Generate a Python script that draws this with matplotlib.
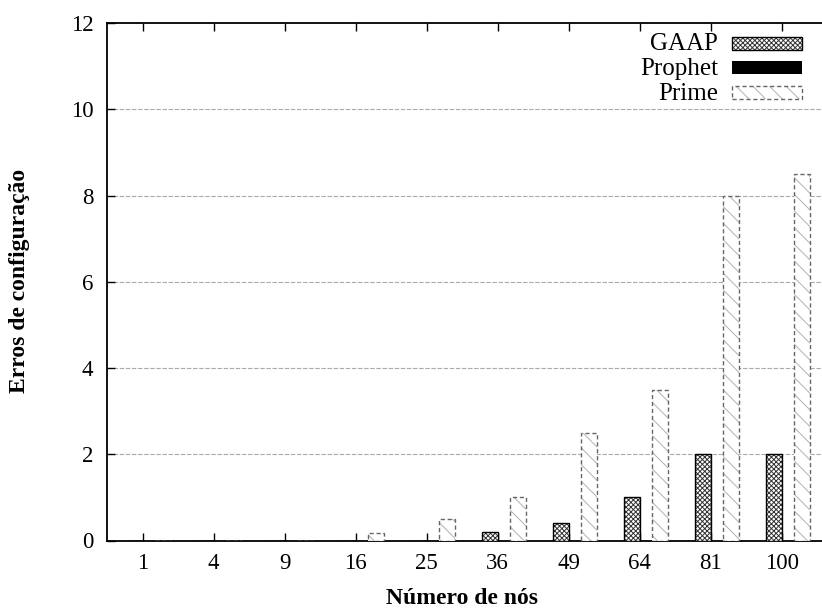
import matplotlib
matplotlib.use("Agg")
import matplotlib.pyplot as plt
from matplotlib.patches import Rectangle
import numpy as np

categories = ["1", "4", "9", "16", "25", "36", "49", "64", "81", "100"]
gaap = [0, 0, 0, 0, 0, 0.2, 0.4, 1.0, 2.0, 2.0]
prophet = [0, 0, 0, 0, 0, 0, 0, 0, 0, 0]
prime = [0, 0, 0, 0.17, 0.5, 1.0, 2.5, 3.5, 8.0, 8.5]
series_names = ["GAAP", "Prophet", "Prime"]

plt.rcParams['font.family'] = ['Liberation Serif', 'DejaVu Serif']
plt.rcParams['hatch.linewidth'] = 0.7

W, H = 822, 612
fig = plt.figure(figsize=(W/100, H/100), dpi=100)
ax = fig.add_axes([107.2/W, 71.5/H, (827.9-107.2)/W, (540.5-23)/H])

x = np.arange(len(categories))
w = 0.225
off_g, off_p, off_r = -0.106, 0.092, 0.289

g_style = dict(facecolor='white', edgecolor='#333333', hatch='xxxxxxx', linewidth=0)
g_edge = dict(facecolor='none', edgecolor='black', linewidth=1.0)
p_style = dict(facecolor='black', edgecolor='black', linewidth=0)
r_style = dict(facecolor='white', edgecolor='#b0b0b0', hatch='\\\\', linewidth=0)
r_edge = dict(facecolor='none', edgecolor='#666666', linewidth=1.0, linestyle=(0, (3, 2)))

ax.bar(x + off_g, gaap, w, zorder=3, **g_style)
ax.bar(x + off_g, gaap, w, zorder=4, **g_edge)
ax.bar(x + off_p, prophet, w, zorder=3, **p_style)
ax.bar(x + off_r, prime, w, zorder=3, **r_style)
ax.bar(x + off_r, prime, w, zorder=4, **r_edge)

ax.set_xlim(-0.5, 9.65)
ax.set_ylim(0, 12)
ax.set_xticks(x)
ax.set_xticklabels(categories)
ax.set_yticks(np.arange(0, 13, 2))
ax.tick_params(direction='in', length=6, width=1.0, top=True, right=False, labelsize=16.5, colors='black')
ax.tick_params(axis='y', pad=10)
ax.tick_params(axis='x', pad=9)
for s in ax.spines.values():
    s.set_linewidth(1.3)

for yv in [2, 4, 6, 8, 10]:
    ax.axhline(yv, color='#aaaaaa', linewidth=0.8, linestyle=(0, (4, 1.5)), zorder=1)

fig.text(462/W, 1 - 598/H, "Número de nós", fontsize=17, fontweight='bold', ha='center', va='center')
fig.text(20/W, 1 - 281/H, "Erros de configuração", fontsize=17, fontweight='bold', ha='center', va='center',
         rotation=90)

# legend (manual, figure coordinates)
rows_y = [43.5, 67.5, 92.5]
styles = [(g_style, g_edge), (p_style, None), (r_style, r_edge)]
for name, yc, (st, ed) in zip(series_names, rows_y, styles):
    fig.text(718/W, 1 - (yc + 1)/H, name, fontsize=18, ha='right', va='center')
    rect = Rectangle((732/W, 1 - (yc + 6)/H), 70/W, 12/H, transform=fig.transFigure, **st)
    fig.patches.append(rect)
    if ed is not None:
        fig.patches.append(Rectangle((732/W, 1 - (yc + 6)/H), 70/W, 12/H, transform=fig.transFigure, **ed))

fig.savefig("out.png", dpi=100)
